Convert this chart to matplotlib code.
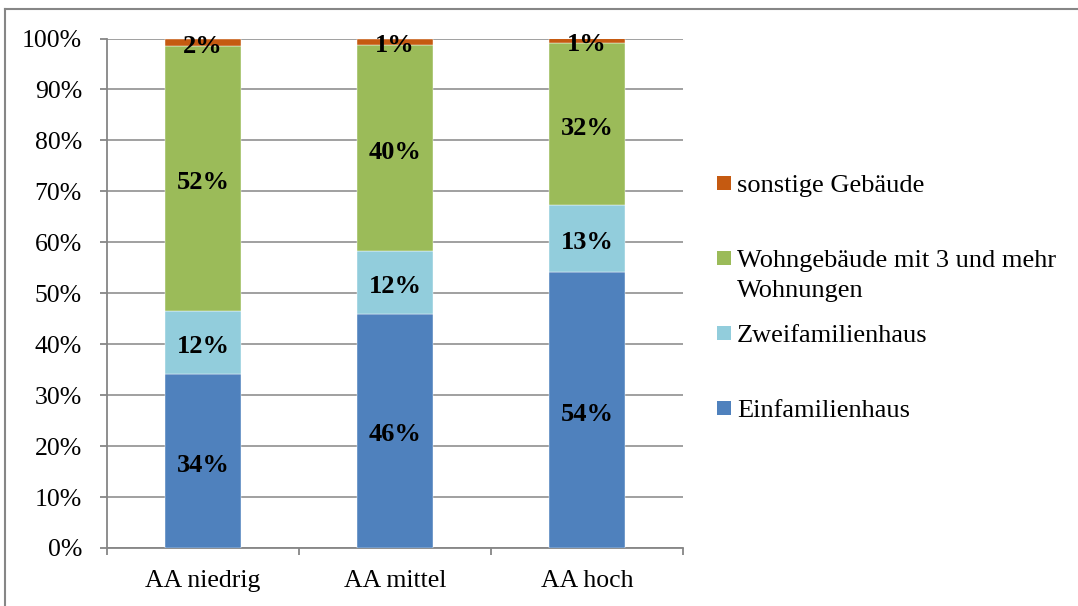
import matplotlib.pyplot as plt
from matplotlib.lines import Line2D
from matplotlib.patches import Rectangle

categories = ["AA niedrig", "AA mittel", "AA hoch"]
einfamilienhaus = [34.2, 46.0, 54.2]
zweifamilienhaus = [12.4, 12.3, 13.2]
mehrfamilien = [51.9, 40.4, 31.7]
sonstige = [1.5, 1.3, 0.9]

series_names = ["Einfamilienhaus", "Zweifamilienhaus",
                "Wohngebäude mit 3 und mehr\nWohnungen", "sonstige Gebäude"]
series_values = [einfamilienhaus, zweifamilienhaus, mehrfamilien, sonstige]
colors = ["#4F81BD", "#92CDDC", "#9BBB59", "#C55A11"]
y_ticks = [0, 10, 20, 30, 40, 50, 60, 70, 80, 90, 100]

plt.rcParams["font.family"] = ["Liberation Serif", "DejaVu Serif"]

W, H = 1078, 606
fig = plt.figure(figsize=(W / 100, H / 100), dpi=100)
ax = fig.add_axes([107 / W, 1 - 548 / H, 576 / W, 509.5 / H])

x = list(range(len(categories)))
bottoms = [0.0] * len(categories)
for name, vals, col in zip(series_names, series_values, colors):
    ax.bar(x, vals, bottom=bottoms, width=0.4, color=col, zorder=3,
           edgecolor="white", linewidth=0.3)
    for i, v in enumerate(vals):
        ax.annotate(f"{round(v)}%", (x[i], bottoms[i] + v / 2),
                    xytext=(0, -3), textcoords="offset points",
                    ha="center", va="center", fontsize=19,
                    fontweight="bold", color="black", zorder=4)
    bottoms = [b + v for b, v in zip(bottoms, vals)]

ax.set_xlim(-0.5, len(categories) - 0.5)
ax.set_ylim(0, 100)
ax.set_yticks(y_ticks)
ax.set_yticklabels([f"{t}%" for t in y_ticks], fontsize=18.5)
ax.yaxis.grid(True, color="#999999", linewidth=1.3, zorder=0)

ax.set_xticks(x)
ax.set_xticklabels(categories, fontsize=18.5)
ax.tick_params(axis="x", length=0, pad=16)
# category separator ticks on the x axis
ax.set_xticks([-0.5, 0.5, 1.5, 2.5], minor=True)
ax.tick_params(axis="x", which="minor", length=5, color="#868686", width=1.3)
ax.tick_params(axis="y", length=5, color="#868686", width=1.3, pad=13)

for side in ["top", "right"]:
    ax.spines[side].set_visible(False)
for side in ["left", "bottom"]:
    ax.spines[side].set_color("#868686")
    ax.spines[side].set_linewidth(1.3)

# legend, top entry first
legend_rows = [183, 258, 333, 408]
for row, name, col in zip(legend_rows, reversed(series_names),
                          reversed(colors)):
    fig.add_artist(Rectangle((717 / W, 1 - (row + 7) / H), 14 / W, 14 / H,
                             transform=fig.transFigure, facecolor=col,
                             edgecolor="none"))
    fig.text(737 / W, 1 - (row - 8) / H, name, ha="left", va="top",
             fontsize=19, color="black", linespacing=1.45)

# outer chart frame
fig.add_artist(Line2D([5 / W, 1], [1 - 9 / H, 1 - 9 / H],
                      color="#868686", linewidth=1.5))
fig.add_artist(Line2D([5 / W, 5 / W], [0, 1 - 9 / H],
                      color="#868686", linewidth=1.5))

fig.savefig("out.png", dpi=100)
